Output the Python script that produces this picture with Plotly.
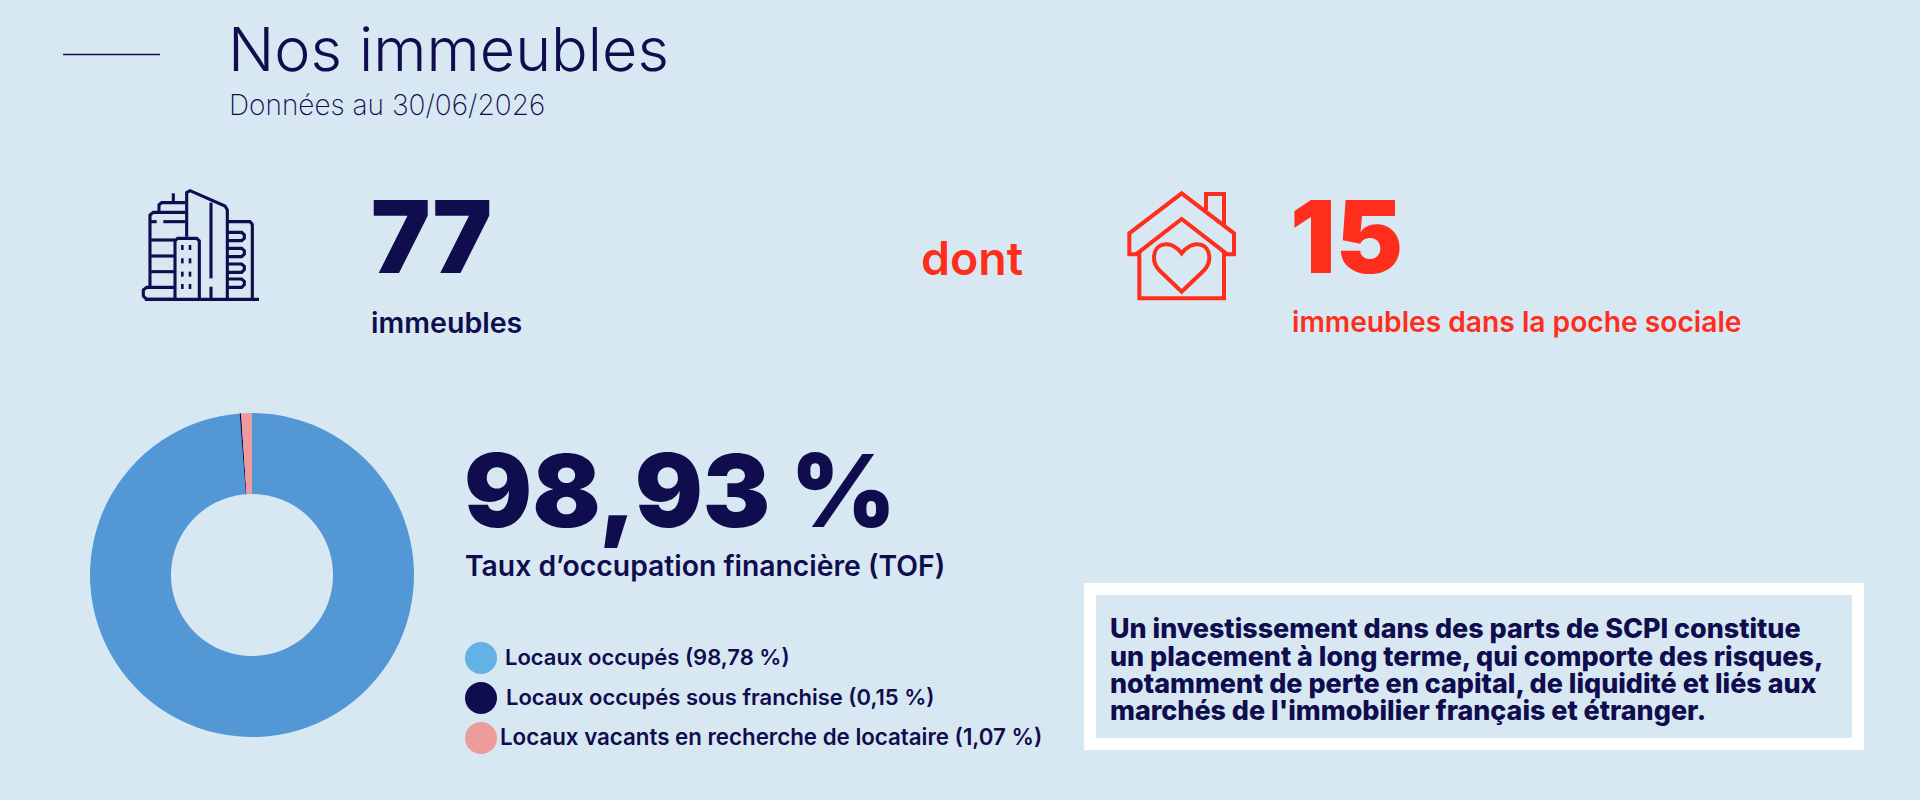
import plotly.graph_objects as go

W, H = 1920, 800
BG = "#D8E8F3"
NAVY = "#0F0D4E"
RED = "#FF2E1C"

slice_labels = ["Locaux occupés", "Locaux occupés sous franchise", "Locaux vacants en recherche de locataire"]
slice_values = [98.78, 0.15, 1.07]
slice_colors = ["#5398D5", NAVY, "#EE9B9B"]
legend_colors = ["#62B2E6", NAVY, "#EE9B9B"]
legend_texts = ["Locaux occupés (98,78 %)", "Locaux occupés sous franchise (0,15 %)",
                "Locaux vacants en recherche de locataire (1,07 %)"]
notice_lines = ["Un investissement dans des parts de SCPI constitue",
                "un placement à long terme, qui comporte des risques,",
                "notamment de perte en capital, de liquidité et liés aux",
                "marchés de l'immobilier français et étranger."]

def px(x): return x / W
def py(y): return 1 - y / H

annotations, shapes = [], []

def T(text, x, base, size, weight=400, color=NAVY, family="Inter"):
    annotations.append(dict(text=text, x=px(x), y=py(base + 0.245 * size), xref="paper", yref="paper",
                            xanchor="left", yanchor="bottom", showarrow=False, borderpad=0, borderwidth=0,
                            font=dict(family=family, size=size, weight=weight, color=color)))

def path(ox, oy, cmds, color, w, fill=None):
    out = []
    for c in cmds:
        letter, pts = c[0], c[1:]
        if letter == "Z":
            out.append("Z"); continue
        coords = " ".join(f"{px(ox + pts[i] / 3):.5f},{py(oy + pts[i + 1] / 3):.5f}" for i in range(0, len(pts), 2))
        out.append(letter + coords)
    shapes.append(dict(type="path", xref="paper", yref="paper", path=" ".join(out),
                       line=dict(color=color, width=w), fillcolor=fill or "rgba(0,0,0,0)", layer="above"))

def poly(ox, oy, pts, color, w):
    cmds = [("M", *pts[0])] + [("L", *p) for p in pts[1:]]
    path(ox, oy, cmds, color, w)

# header
shapes.append(dict(type="line", xref="paper", yref="paper", x0=px(63), x1=px(160), y0=py(54.5), y1=py(54.5),
                   line=dict(color=NAVY, width=1.6)))
T("Nos immeubles", 228, 71, 61, 300)
T("Données au 30/06/2026", 229, 115.5, 28, 200)

# key figures
T("77", 371, 272, 100, 900)
T("immeubles", 371, 332.5, 28.6, 600)
T("dont", 921, 275, 46.5, 600, RED)
T("15", 1290, 272, 101, 900, RED)
T("immeubles dans la poche sociale", 1292, 332.5, 28.2, 600, RED)

# building icon
bx, by = 135, 180
n, lw = NAVY, 3.1
for pts in [
    [(30, 358), (372, 358)],
    [(120, 358), (35, 358), (25, 348), (25, 330), (35, 322), (120, 322)],
    [(45, 322), (45, 105), (55, 97), (150, 97)],
    [(45, 125), (65, 125)], [(85, 125), (150, 125)],
    [(45, 180), (120, 180)], [(45, 228), (120, 228)], [(45, 275), (120, 275)],
    [(72, 97), (72, 74), (80, 68), (150, 68)],
    [(115, 68), (115, 40)],
    [(155, 170), (155, 38), (165, 32), (270, 78), (277, 90), (277, 358)],
    [(228, 68), (228, 295)], [(228, 320), (228, 358)],
    [(120, 358), (120, 183), (128, 175), (185, 175), (193, 183), (193, 358)],
    [(277, 125), (345, 125), (352, 133), (352, 358)],
    [(277, 157), (320, 157), (328, 165), (328, 175), (320, 182), (277, 182)],
    [(277, 205), (320, 205), (328, 212), (328, 222), (320, 230), (277, 230)],
    [(277, 252), (320, 252), (328, 259), (328, 269), (320, 277), (277, 277)],
    [(277, 297), (320, 297), (328, 304), (328, 314), (320, 322), (277, 322)],
]:
    poly(bx, by, pts, n, lw)
for wy in [(195, 210), (235, 250), (275, 290), (312, 327)]:
    for wx in (142, 165):
        poly(bx, by, [(wx, wy[0]), (wx, wy[1])], n, 2.6)

# house icon
hx, hy = 1120, 185
r, lw = RED, 4
poly(hx, hy, [(58, 208), (28, 208), (28, 145), (185, 25), (342, 145), (342, 208), (312, 208)], r, lw)
poly(hx, hy, [(48, 208), (185, 102), (322, 208)], r, lw)
poly(hx, hy, [(58, 200), (58, 340), (312, 340), (312, 200)], r, lw)
poly(hx, hy, [(258, 75), (258, 27), (312, 27), (312, 120)], r, lw)
path(hx, hy, [("M", 185, 205), ("C", 170, 185, 150, 175, 135, 178), ("C", 115, 180, 102, 195, 102, 218),
              ("C", 102, 235, 112, 250, 120, 258), ("L", 185, 320), ("L", 250, 258),
              ("C", 258, 250, 268, 235, 268, 218), ("C", 268, 195, 255, 180, 235, 178),
              ("C", 220, 175, 200, 185, 185, 205), ("Z",)], r, lw)

# occupancy
T("98,93 %", 464, 526, 101, 900)
T("Taux d’occupation financière (TOF)", 465, 576, 28.3, 600)

# legend
legend_y = [658, 698, 738]
legend_tx = [505, 506, 500]
legend_sz = [22, 22, 22.3]
for c, t, y, tx, sz in zip(legend_colors, legend_texts, legend_y, legend_tx, legend_sz):
    shapes.append(dict(type="circle", xref="paper", yref="paper", x0=px(465), x1=px(497), y0=py(y - 16), y1=py(y + 16),
                       fillcolor=c, line=dict(width=0)))
    T(t, tx, y + 7, sz, 600)

# notice box
shapes.append(dict(type="rect", xref="paper", yref="paper", x0=px(1090), x1=px(1858), y0=py(589), y1=py(744),
                   line=dict(color="white", width=12), fillcolor=BG, layer="below"))
for line, base in zip(notice_lines, [637, 665, 692, 719]):
    T(line, 1110, base, 26.9, 800)

fig = go.Figure(go.Pie(labels=slice_labels, values=slice_values, sort=False, direction="clockwise", rotation=0,
                       hole=0.5, textinfo="none", hoverinfo="none",
                       marker=dict(colors=slice_colors, line=dict(width=0)),
                       domain=dict(x=[px(90), px(414)], y=[py(737), py(413)])))
fig.update_layout(width=W, height=H, margin=dict(l=0, r=0, t=0, b=0), paper_bgcolor=BG, plot_bgcolor=BG,
                  showlegend=False, annotations=annotations, shapes=shapes)
fig.write_html("out.html", config=dict(displayModeBar=False),
               post_script="document.body.style.margin='0';document.body.style.overflow='hidden';")
